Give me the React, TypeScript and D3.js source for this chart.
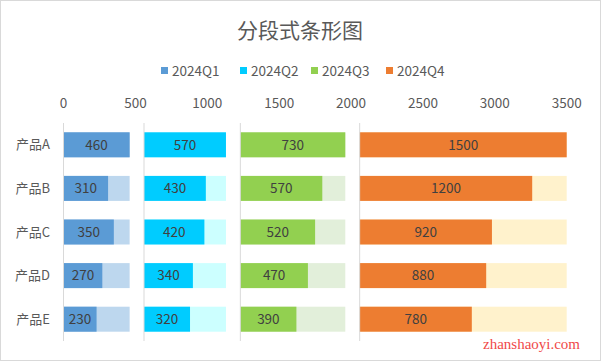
import * as d3 from "d3";

const categories = ["产品A", "产品B", "产品C", "产品D", "产品E"];
const seriesNames = ["2024Q1", "2024Q2", "2024Q3", "2024Q4"];
const q1 = [460, 310, 350, 270, 230];
const q2 = [570, 430, 420, 340, 320];
const q3 = [730, 570, 520, 470, 390];
const q4 = [1500, 1200, 920, 880, 780];
const xTicks = [0, 500, 1000, 1500, 2000, 2500, 3000, 3500];
const segmentGap = 100;

const darkColors = ["#5B9BD5", "#00CCFF", "#92D050", "#ED7D31"];
const lightColors = ["#BDD7EE", "#CCFFFF", "#E2EFDA", "#FFF2CC"];

const W = 601;
const H = 361;
const FONT = "'Noto Sans CJK SC', 'Microsoft YaHei', sans-serif";

export default function App() {
  const series = [q1, q2, q3, q4];
  // each segment starts after the previous segment's max plus a gap
  const offsets: number[] = [];
  let acc = 0;
  series.forEach((s) => {
    offsets.push(acc);
    acc += (d3.max(s) || 0) + segmentGap;
  });
  const maxes = series.map((s) => d3.max(s) || 0);

  const x = d3.scaleLinear().domain([0, 3500]).range([63.5, 566.7]);
  const y = d3
    .scaleBand<string>()
    .domain(categories)
    .range([123, 341])
    .paddingInner(0.427)
    .paddingOuter(0.2135);

  const legendX = [161, 240, 311, 386];

  return (
    <svg
      width={W}
      height={H}
      style={{ position: "absolute", left: 0, top: 0, fontFamily: FONT }}
    >
      <defs>
        <clipPath id="plot">
          <rect x={x(0)} y={110} width={x(3500) - x(0)} height={240} />
        </clipPath>
      </defs>
      <rect x={0.5} y={0.5} width={W - 1} height={H - 1} fill="#fff" stroke="#D9D9D9" />

      <text x={300} y={38} textAnchor="middle" fontSize={21} fill="#595959">
        分段式条形图
      </text>

      {seriesNames.map((name, i) => (
        <g key={name}>
          <rect x={legendX[i]} y={67} width={7} height={7} fill={darkColors[i]} />
          <text x={legendX[i] + 11} y={75.5} fontSize={13.5} fill="#595959">
            {name}
          </text>
        </g>
      ))}

      {xTicks.map((t) => (
        <text key={t} x={x(t)} y={108} textAnchor="middle" fontSize={13.5} fill="#595959">
          {t}
        </text>
      ))}

      {categories.map((c) => (
        <text
          key={c}
          x={50}
          y={(y(c) || 0) + y.bandwidth() / 2 + 4.5}
          textAnchor="end"
          fontSize={13}
          fill="#595959"
        >
          {c}
        </text>
      ))}

      <g clipPath="url(#plot)">
        {series.map((s, i) =>
          categories.map((c, j) => {
            const y0 = y(c) || 0;
            const start = offsets[i];
            return (
              <g key={`${i}-${c}`}>
                <rect
                  x={x(start)}
                  y={y0}
                  width={x(start + maxes[i]) - x(start)}
                  height={y.bandwidth()}
                  fill={lightColors[i]}
                />
                <rect
                  x={x(start)}
                  y={y0}
                  width={x(start + s[j]) - x(start)}
                  height={y.bandwidth()}
                  fill={darkColors[i]}
                />
              </g>
            );
          })
        )}
      </g>

      {offsets.map((o, i) => (
        <line
          key={i}
          x1={x(o)}
          x2={x(o)}
          y1={123}
          y2={341}
          stroke="#D9D9D9"
          strokeWidth={1}
        />
      ))}

      {series.map((s, i) =>
        categories.map((c, j) => {
          const start = offsets[i];
          const end = Math.min(start + s[j], 3500);
          return (
            <text
              key={`l-${i}-${c}`}
              x={(x(start) + x(end)) / 2}
              y={(y(c) || 0) + y.bandwidth() / 2 + 4.8}
              textAnchor="middle"
              fontSize={13.5}
              fill="#404040"
            >
              {s[j]}
            </text>
          );
        })
      )}

      <text
        x={483}
        y={349}
        fontSize={14}
        fill="#F04848"
        fontFamily="'Liberation Serif', serif"
        textLength={97}
        lengthAdjust="spacingAndGlyphs"
      >
        zhanshaoyi.com
      </text>
    </svg>
  );
}
